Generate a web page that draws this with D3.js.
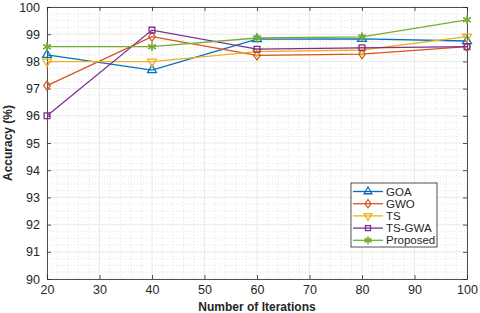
<!DOCTYPE html>
<html><head><meta charset="utf-8">
<script src="https://cdn.jsdelivr.net/npm/d3@7"></script>
<style>body{margin:0;background:#fff;}svg{display:block;font-family:"Liberation Sans",Arial,sans-serif;}</style>
</head><body>
<svg id="c" width="480" height="313"></svg>
<script>
const iterations = [20, 40, 60, 80, 100];
const seriesNames = ["GOA", "GWO", "TS", "TS-GWA", "Proposed"];
const goa = [98.24, 97.68, 98.82, 98.83, 98.75];
const gwo = [97.11, 98.91, 98.22, 98.27, 98.54];
const ts = [97.99, 97.99, 98.36, 98.42, 98.91];
const tsgwa = [96.0, 99.15, 98.45, 98.50, 98.54];
const proposed = [98.54, 98.54, 98.86, 98.90, 99.53];
const xTicks = [20, 30, 40, 50, 60, 70, 80, 90, 100];
const yTicks = [90, 91, 92, 93, 94, 95, 96, 97, 98, 99, 100];
const colors = ["#0072BD", "#D95319", "#EDB120", "#7E2F8E", "#77AC30"];

const allSeries = [goa, gwo, ts, tsgwa, proposed];
const svg = d3.select("#c");
const L = 47, R = 467, T = 7, B = 279;
const x = d3.scaleLinear().domain([20, 100]).range([L, R]);
const y = d3.scaleLinear().domain([90, 100]).range([B, T]);

// minor grid
const g = svg.append("g");
g.selectAll(".mx").data(d3.range(20, 101, 2).filter(v => v % 10 !== 0)).enter().append("line")
  .attr("x1", d => x(d)).attr("x2", d => x(d)).attr("y1", T).attr("y2", B)
  .attr("stroke", "#d0d0d0").attr("stroke-width", 0.6).attr("stroke-dasharray", "1,2");
g.selectAll(".my").data(d3.range(90, 100.01, 0.25).filter(v => Math.abs(v - Math.round(v)) > 0.01)).enter().append("line")
  .attr("y1", d => y(d)).attr("y2", d => y(d)).attr("x1", L).attr("x2", R)
  .attr("stroke", "#d0d0d0").attr("stroke-width", 0.6).attr("stroke-dasharray", "1,2");
// major grid
g.selectAll(".gx").data(xTicks).enter().append("line")
  .attr("x1", d => x(d)).attr("x2", d => x(d)).attr("y1", T).attr("y2", B)
  .attr("stroke", "#e4e4e4").attr("stroke-width", 0.8);
g.selectAll(".gy").data(yTicks).enter().append("line")
  .attr("y1", d => y(d)).attr("y2", d => y(d)).attr("x1", L).attr("x2", R)
  .attr("stroke", "#e4e4e4").attr("stroke-width", 0.8);

// axes
const xAxis = d3.axisBottom(x).tickValues(xTicks).tickSizeInner(-4).tickSizeOuter(0).tickPadding(6);
const yAxis = d3.axisLeft(y).tickValues(yTicks).tickSizeInner(-4).tickSizeOuter(0).tickPadding(7);
const xa = svg.append("g").attr("transform", `translate(0,${B})`).call(xAxis);
const ya = svg.append("g").attr("transform", `translate(${L},0)`).call(yAxis);
const xa2 = svg.append("g").attr("transform", `translate(0,${T})`).call(d3.axisTop(x).tickValues(xTicks).tickSizeInner(-4).tickSizeOuter(0).tickFormat(""));
const ya2 = svg.append("g").attr("transform", `translate(${R},0)`).call(d3.axisRight(y).tickValues(yTicks).tickSizeInner(-4).tickSizeOuter(0).tickFormat(""));
[xa, ya, xa2, ya2].forEach(a => {
  a.select(".domain").attr("stroke", "#262626").attr("stroke-width", 0.8);
  a.selectAll(".tick line").attr("stroke", "#262626").attr("stroke-width", 0.8);
  a.selectAll(".tick text").attr("fill", "#262626").style("font-size", "12.5px").style("font-family", "'Liberation Sans',Arial,sans-serif");
});

// labels
svg.append("text").attr("x", (L + R) / 2).attr("y", 310.5).attr("text-anchor", "middle")
  .style("font-size", "12px").style("font-weight", "bold").attr("fill", "#262626").text("Number of Iterations");
svg.append("text").attr("transform", `translate(12,${(T + B) / 2}) rotate(-90)`).attr("text-anchor", "middle")
  .style("font-size", "12px").style("font-weight", "bold").attr("fill", "#262626").text("Accuracy (%)");

// markers
function marker(sel, i, size) {
  const types = [d3.symbolTriangle2, d3.symbolDiamond2, d3.symbolTriangle2, d3.symbolSquare2, d3.symbolAsterisk];
  const s = size || 56;
  sel.append("path").attr("d", d3.symbol().type(types[i]).size(i === 1 ? s * 0.8 : (i === 3 ? s * 0.75 : s))())
    .attr("transform", i === 2 ? "rotate(180)" : (i === 1 ? "scale(0.8,1.1)" : null))
    .attr("fill", "none").attr("stroke", colors[i]).attr("stroke-width", i === 4 ? 1.6 : 1.3);
}

const line = d3.line().x((d, j) => x(iterations[j])).y(d => y(d));
allSeries.forEach((s, i) => {
  svg.append("path").datum(s).attr("d", line).attr("fill", "none").attr("stroke", colors[i]).attr("stroke-width", 1.3);
  s.forEach((v, j) => {
    const m = svg.append("g").attr("transform", `translate(${x(iterations[j])},${y(v)})`);
    marker(m, i);
  });
});

// legend
const lg = svg.append("g").attr("transform", "translate(351,183)");
lg.append("rect").attr("width", 86).attr("height", 64).attr("fill", "#fff").attr("stroke", "#262626").attr("stroke-width", 0.8);
seriesNames.forEach((n, i) => {
  const yy = 8.5 + i * 12.2;
  lg.append("line").attr("x1", 2).attr("x2", 32).attr("y1", yy).attr("y2", yy).attr("stroke", colors[i]).attr("stroke-width", 1.3);
  const m = lg.append("g").attr("transform", `translate(17,${yy})`);
  marker(m, i, 44);
  lg.append("text").attr("x", 35).attr("y", yy + 4).style("font-size", "11.5px").attr("fill", "#262626").text(n);
});
</script>
</body></html>
